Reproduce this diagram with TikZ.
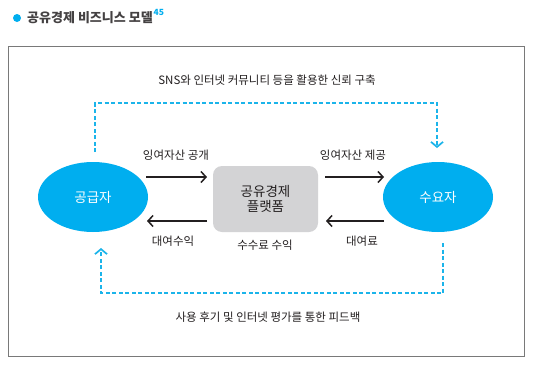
\documentclass[tikz,border=0pt]{standalone}
\usepackage{fontspec}
\setmainfont{Noto Sans CJK KR}
\usetikzlibrary{arrows.meta,shapes.geometric}
\definecolor{cyanb}{HTML}{00AEEF}
\definecolor{dashc}{HTML}{1BB4EA}
\definecolor{boxg}{HTML}{D3D3D5}
\definecolor{txt}{HTML}{231F20}
\begin{document}
\begin{tikzpicture}[x=1pt,y=-1pt,
  party/.style={ellipse,fill=cyanb,minimum width=110pt,minimum height=70pt,inner sep=0pt,text=white,font=\fontsize{13.5}{15}\selectfont},
  platform/.style={rectangle,rounded corners=9pt,fill=boxg,minimum width=105pt,minimum height=66pt,text=txt,align=center,font=\fontsize{13.5}{15.5}\selectfont},
  lbl/.style={text=txt,font=\fontsize{11.5}{13}\selectfont,inner sep=0pt},
  flow/.style={draw=txt,line width=1.5pt,-{Straight Barb[length=5pt,width=11pt,line width=1.5pt]}},
  trust/.style={draw=dashc,line width=1.7pt,dash pattern=on 4pt off 2.5pt,-{Straight Barb[length=5pt,width=12pt,line width=1.7pt]}}
]
\useasboundingbox (0,0) rectangle (536,378);
\fill[white] (0,0) rectangle (536,378);
% title
\fill[cyanb] (17,18) circle (4pt);
\node[anchor=west,inner sep=0pt,text=txt!85!white,font=\fontsize{13}{14}\selectfont\bfseries] (title) at (27,18) {공유경제 비즈니스 모델};
\node[anchor=north west,inner sep=0pt,text=cyanb,font=\fontsize{8.5}{9}\selectfont\bfseries] (sup) at ([xshift=0.5pt,yshift=3pt]title.north east) {45};
% frame
\draw[draw=gray!95!black,line width=1pt] (8,46) rectangle (524,356);
% nodes
\node[party] (sup1) at (93,197) {공급자};
\node[party] (dem) at (438,197) {수요자};
\node[platform] (plat) at (265.5,199) {공유경제\\플랫폼};
% flow arrows
\coordinate (a1s) at (146,177); \coordinate (a1e) at (207,177);
\coordinate (a2s) at (325,177); \coordinate (a2e) at (384,177);
\coordinate (b1s) at (207,221); \coordinate (b1e) at (147,221);
\coordinate (b2s) at (384,221); \coordinate (b2e) at (326,221);
\draw[flow] (a1s) -- (a1e);
\draw[flow] (a2s) -- (a2e);
\draw[flow] (b1s) -- (b1e);
\draw[flow] (b2s) -- (b2e);
\node[lbl] (l1) at (176,155) {잉여자산 공개};
\node[lbl] (l2) at (353,155) {잉여자산 제공};
\node[lbl] (l3) at (173,241) {대여수익};
\node[lbl] (l4) at (362,241) {대여료};
\node[lbl] (l5) at (265,245) {수수료 수익};
% dashed feedback loops
\coordinate (t0) at (95,152); \coordinate (t1) at (437,148);
\draw[trust] (t0) -- (95,103) -- (437,103) -- (t1);
\coordinate (u0) at (443,243); \coordinate (u1) at (101,248);
\draw[trust] (u0) -- (443,293) -- (101,293) -- (u1);
\node[lbl] (top) at (267,80) {SNS와 인터넷 커뮤니티 등을 활용한 신뢰 구축};
\node[lbl] (bot) at (268,317) {사용 후기 및 인터넷 평가를 통한 피드백};
\end{tikzpicture}
\end{document}
